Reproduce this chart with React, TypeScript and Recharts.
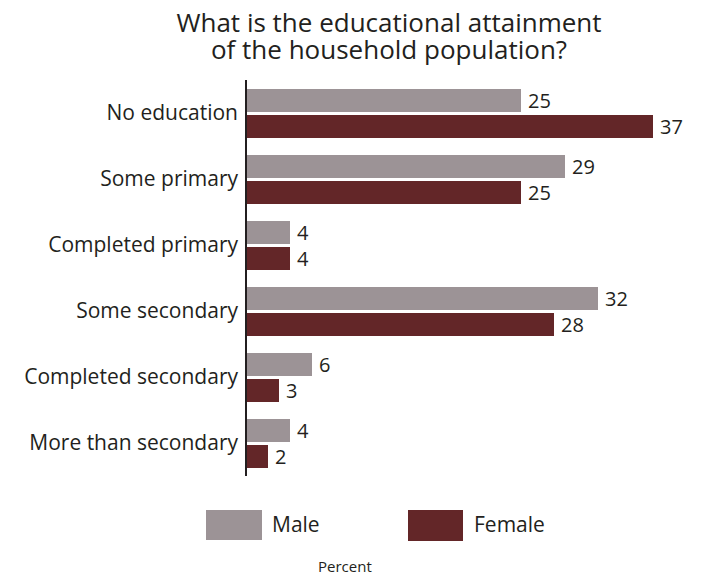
import { BarChart, Bar, XAxis, YAxis, LabelList } from 'recharts';

const categories = [
  'No education',
  'Some primary',
  'Completed primary',
  'Some secondary',
  'Completed secondary',
  'More than secondary',
];
const male = [25, 29, 4, 32, 6, 4];
const female = [37, 25, 4, 28, 3, 2];

const MALE_COLOR = '#9c9396';
const FEMALE_COLOR = '#632628';
const FONT = '"Open Sans", "Noto Sans", sans-serif';

const data = categories.map((name, i) => ({ name, male: male[i], female: female[i] }));

const titleStyle = {
  position: 'absolute' as const,
  left: 0,
  width: 778,
  textAlign: 'center' as const,
  fontSize: 26,
  lineHeight: '26px',
  whiteSpace: 'nowrap' as const,
};

const App = () => {
  return (
    <div style={{ position: 'absolute', left: 0, top: 0, width: 701, height: 575, fontFamily: FONT, color: '#231f20', overflow: 'hidden' }}>
      <div style={{ ...titleStyle, top: 9 }}>What is the educational attainment</div>
      <div style={{ ...titleStyle, top: 36 }}>of the household population?</div>

      <BarChart
        width={701}
        height={575}
        data={data}
        layout="vertical"
        margin={{ top: 80, right: 15, bottom: 99, left: 0 }}
        barCategoryGap={8}
        barGap={3}
        style={{ position: 'absolute', left: 0, top: 0 }}
      >
        <XAxis type="number" domain={[0, 40]} hide />
        <YAxis
          type="category"
          dataKey="name"
          width={246}
          tickLine={false}
          axisLine={{ stroke: '#231f20', strokeWidth: 2 }}
          tick={{ fill: '#231f20', fontSize: 21, fontFamily: FONT }}
        />
        <Bar dataKey="male" fill={MALE_COLOR} barSize={23} isAnimationActive={false}>
          <LabelList dataKey="male" position="right" offset={7} fill="#231f20" fontSize={20} fontFamily={FONT} />
        </Bar>
        <Bar dataKey="female" fill={FEMALE_COLOR} barSize={23} isAnimationActive={false}>
          <LabelList dataKey="female" position="right" offset={7} fill="#231f20" fontSize={20} fontFamily={FONT} />
        </Bar>
      </BarChart>

      <div style={{ position: 'absolute', left: 206, top: 510, width: 56, height: 30, background: MALE_COLOR }} />
      <div style={{ position: 'absolute', left: 272, top: 512, fontSize: 21, lineHeight: '24px' }}>Male</div>
      <div style={{ position: 'absolute', left: 408, top: 510, width: 55, height: 31, background: FEMALE_COLOR }} />
      <div style={{ position: 'absolute', left: 474, top: 512, fontSize: 21, lineHeight: '24px' }}>Female</div>
      <div style={{ position: 'absolute', left: 318, top: 557, fontSize: 15, lineHeight: '18px' }}>Percent</div>
    </div>
  );
};

export default App;
